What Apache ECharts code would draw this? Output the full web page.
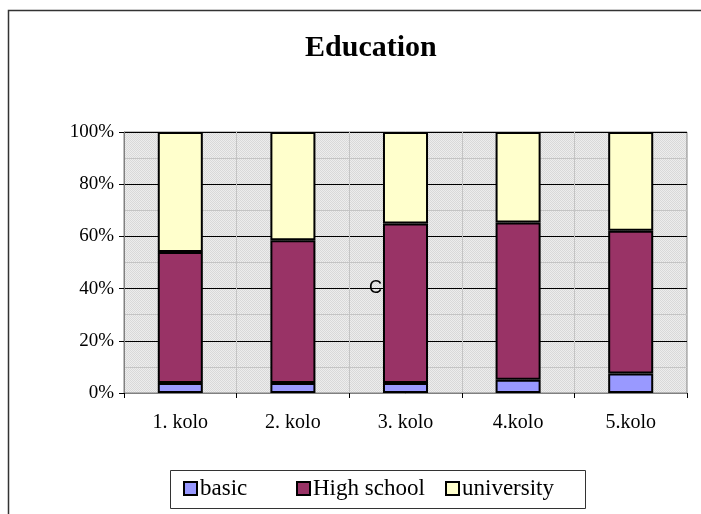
<!DOCTYPE html>
<html>
<head>
<meta charset="utf-8">
<script src="https://cdn.jsdelivr.net/npm/echarts@6/dist/echarts.min.js"></script>
<style>
  html, body { margin: 0; padding: 0; background: #fff; }
  #chart { width: 701px; height: 514px; }
</style>
</head>
<body>
<div id="chart"></div>
<script>
// Education structure by survey round (shares in percent)
const rounds = ['1. kolo', '2. kolo', '3. kolo', '4.kolo', '5.kolo'];
const seriesNames = ['basic', 'High school', 'university'];
const basic = [3.8, 3.8, 3.8, 5.1, 7.5];
const highSchool = [50.2, 54.7, 61.1, 60.2, 54.7];
const university = [46.0, 41.5, 35.1, 34.7, 37.8];
const yTicks = [0, 20, 40, 60, 80, 100];

// Fine dotted fill for the plot area
function dotPattern() {
  const c = document.createElement('canvas');
  c.width = 2; c.height = 2;
  const g = c.getContext('2d');
  g.fillStyle = '#EDEDED'; g.fillRect(0, 0, 2, 2);
  g.fillStyle = '#D9D9D9'; g.fillRect(0, 0, 1, 1); g.fillRect(1, 1, 1, 1);
  return c;
}

const serif = '"Liberation Serif", "DejaVu Serif", serif';
const chart = echarts.init(document.getElementById('chart'));

const barBase = {
  type: 'bar',
  stack: 'total',
  barWidth: '40%',
  itemStyle: { borderColor: '#000', borderWidth: 2 }
};

function barSeries(name, data, color) {
  return Object.assign({}, barBase, {
    name: name,
    data: data,
    itemStyle: Object.assign({}, barBase.itemStyle, { color: color })
  });
}

// One legend entry per slot so the spacing inside the framed box can be set per item
const legendSlots = [183, 296, 445];
const legends = seriesNames.map(function (name, i) {
  return {
    data: [name],
    left: legendSlots[i],
    top: 477,
    padding: 0,
    icon: 'rect',
    itemWidth: 13, itemHeight: 13,
    textStyle: { fontFamily: serif, fontSize: 23, color: '#000', padding: [0, 0, 0, -2] }
  };
});

chart.setOption({
  animation: false,
  title: {
    text: 'Education',
    left: 305,
    top: 33,
    textStyle: { fontFamily: serif, fontWeight: 'bold', fontSize: 30, color: '#000' },
    padding: 0,
    itemGap: 0
  },
  grid: {
    left: 124, right: 14, top: 132, bottom: 121,
    show: true,
    backgroundColor: { image: dotPattern(), repeat: 'repeat' },
    borderColor: '#808080', borderWidth: 1
  },
  legend: legends,
  xAxis: {
    type: 'category',
    data: rounds,
    axisLine: { lineStyle: { color: '#808080', width: 1 } },
    axisTick: { show: true, length: 5, lineStyle: { color: '#000' } },
    axisLabel: { fontFamily: serif, fontSize: 20, color: '#000', margin: 20 },
    splitLine: { show: true, lineStyle: { color: '#C4C4C4', width: 1 } }
  },
  yAxis: {
    type: 'value',
    min: yTicks[0],
    max: yTicks[yTicks.length - 1],
    interval: 20,
    axisLine: { show: true, lineStyle: { color: '#808080', width: 1 } },
    axisTick: { show: true, length: 5, inside: false, lineStyle: { color: '#000' } },
    axisLabel: { fontFamily: serif, fontSize: 19, color: '#000', margin: 10, formatter: '{value}%' },
    splitLine: { show: true, lineStyle: { color: '#000', width: 1 } },
    minorTick: { show: false, splitNumber: 2 },
    minorSplitLine: { show: true, lineStyle: { color: '#C4C4C4', width: 1 } }
  },
  series: [
    barSeries(seriesNames[0], basic, '#9999FF'),
    barSeries(seriesNames[1], highSchool, '#993366'),
    barSeries(seriesNames[2], university, '#FFFFCC')
  ],
  graphic: [
    {
      type: 'rect',
      silent: true,
      shape: { x: 8.5, y: 10.5, width: 900, height: 700 },
      style: { fill: 'none', stroke: '#333', lineWidth: 1.5 }
    },
    {
      type: 'rect',
      silent: true,
      shape: { x: 170.5, y: 470.5, width: 415, height: 38 },
      style: { fill: 'none', stroke: '#333', lineWidth: 1 }
    },
    {
      type: 'text',
      left: 369, top: 279,
      style: { text: 'C', fontFamily: '"Liberation Sans", Arial, sans-serif', fontSize: 18, fill: '#000' }
    }
  ]
});
</script>
</body>
</html>
